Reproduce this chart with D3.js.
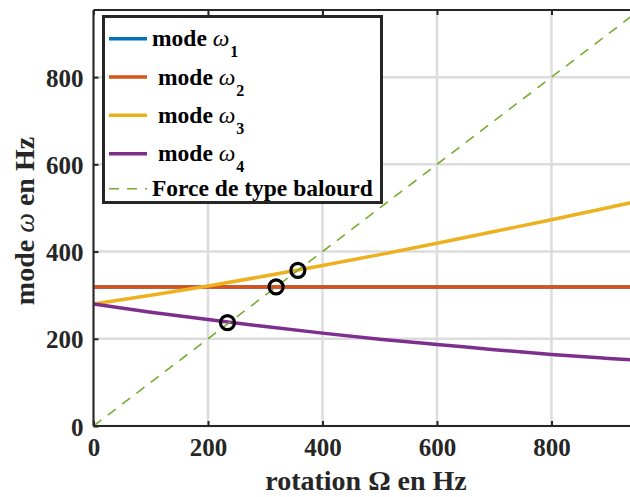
<!DOCTYPE html>
<html><head><meta charset="utf-8">
<script src="https://cdn.jsdelivr.net/npm/d3@7"></script>
<style>
html,body{margin:0;padding:0;background:#fff;overflow:hidden}
svg{display:block;font-family:"Liberation Serif","Times New Roman",serif}
</style></head>
<body>
<svg id="chart" width="630" height="497"></svg>
<script>
// ---- data ----
const rotation = [0, 100, 200, 300, 400, 500, 600, 700, 800, 900, 1000];
const mode1 = [319, 319, 319, 319, 319, 319, 319, 319, 319, 319, 319];
const mode2 = [319, 319, 319, 319, 319, 319, 319, 319, 319, 319, 319];
const mode3 = [280, 300, 321, 344, 368, 393, 419, 446, 473, 501, 530];
const mode4 = [280, 261, 244, 228, 213, 199, 187, 175, 164, 155, 146];
const balourd = [0, 1000];
const crossX = [234, 319, 357];
const crossY = [237, 319, 357];
const xTicks = [0, 200, 400, 600, 800, 1000];
const yTicks = [0, 200, 400, 600, 800];
const seriesNames = ["mode ", "mode ", "mode ", "mode ", "Force de type balourd"];
const seriesSubs = ["1", "2", "3", "4", null];
const colors = ["#0072BD", "#D95319", "#EDB120", "#7E2F8E", "#77AC30"];

const svg = d3.select("#chart");
const L = 93.5, T = 10, B = 426;
const x = d3.scaleLinear().domain([0, 1000]).range([L, L + 572.5]);
const y = d3.scaleLinear().domain([0, 954]).range([B, T]);

const axisColor = "#262626";
// grid
const g = svg.append("g");
g.selectAll(".gx").data(xTicks).enter().append("line")
  .attr("x1", d => x(d)).attr("x2", d => x(d)).attr("y1", T).attr("y2", B)
  .attr("stroke", "#dcdcdc").attr("stroke-width", 2.5);
g.selectAll(".gy").data(yTicks).enter().append("line")
  .attr("x1", L).attr("x2", 700).attr("y1", d => y(d)).attr("y2", d => y(d))
  .attr("stroke", "#dcdcdc").attr("stroke-width", 2.5);

// lines
const line = (ys) => d3.line().x((d, i) => x(rotation[i])).y(d => y(d)).curve(d3.curveNatural)(ys);
svg.append("clipPath").attr("id", "clip").append("rect")
  .attr("x", L).attr("y", T).attr("width", 700).attr("height", B - T);
const plot = svg.append("g").attr("clip-path", "url(#clip)");
[mode1, mode2, mode3, mode4].forEach((s, i) => {
  plot.append("path").attr("d", line(s)).attr("fill", "none")
    .attr("stroke", colors[i]).attr("stroke-width", 3.5);
});
plot.append("line").attr("x1", x(balourd[0])).attr("y1", y(balourd[0]))
  .attr("x2", x(balourd[1])).attr("y2", y(balourd[1]))
  .attr("stroke", colors[4]).attr("stroke-width", 1.6).attr("stroke-dasharray", "10,8");

// circles
plot.selectAll(".c").data(crossX).enter().append("circle")
  .attr("cx", d => x(d)).attr("cy", (d, i) => y(crossY[i])).attr("r", 7)
  .attr("fill", "none").attr("stroke", "#000").attr("stroke-width", 3.2);

// axes
const xAxis = d3.axisBottom(x).tickValues(xTicks.slice(0, 5)).tickSize(-5).tickPadding(10).tickFormat(d3.format("d"));
const gxA = svg.append("g").attr("transform", `translate(0,${B})`).call(xAxis);
const xTop = d3.axisTop(x).tickValues(xTicks.slice(0, 5)).tickSize(-5).tickFormat("");
const gxT = svg.append("g").attr("transform", `translate(0,${T})`).call(xTop);
const yAxis = d3.axisLeft(y).tickValues(yTicks).tickSize(-5).tickPadding(10).tickFormat(d3.format("d"));
const gyA = svg.append("g").attr("transform", `translate(${L},0)`).call(yAxis);
[gxA, gxT, gyA].forEach(a => {
  a.select(".domain").attr("stroke", axisColor).attr("stroke-width", 2);
  a.selectAll(".tick line").attr("stroke", axisColor).attr("stroke-width", 2);
  a.selectAll("text").attr("fill", axisColor).attr("font-size", 25).attr("font-weight", "bold")
    .attr("font-family", "Liberation Serif");
});
gxA.select(".domain").attr("d", `M${L},0H640`);
gxT.select(".domain").attr("d", `M${L},0H640`);
gyA.select(".domain").attr("d", `M0,${B}V${T}`);
gxA.selectAll("text").attr("dy", "0.78em");
gyA.selectAll("text").attr("dy", "0.36em");

// axis labels
svg.append("text").attr("x", 366).attr("y", 490).attr("text-anchor", "middle")
  .attr("font-size", 28).attr("font-weight", "bold").attr("fill", axisColor)
  .text("rotation Ω en Hz");
const yl = svg.append("text").attr("transform", "translate(34,221) rotate(-90)")
  .attr("text-anchor", "middle").attr("font-size", 28).attr("font-weight", "bold").attr("fill", axisColor);
yl.append("tspan").text("mode ");
yl.append("tspan").attr("font-style", "italic").attr("font-weight", "normal").text("ω");
yl.append("tspan").text(" en Hz");

// legend
const lg = svg.append("g");
lg.append("rect").attr("x", 103.5).attr("y", 16.5).attr("width", 278).attr("height", 186)
  .attr("fill", "#fff").attr("stroke", axisColor).attr("stroke-width", 3);
const rowsY = [38.7, 77, 115.3, 153.7, 188.7];
seriesNames.forEach((name, i) => {
  const yy = rowsY[i];
  const ln = lg.append("line").attr("x1", 109).attr("x2", 147).attr("y1", yy).attr("y2", yy)
    .attr("stroke", colors[i]).attr("stroke-width", i === 4 ? 1.6 : 3.5);
  if (i === 4) ln.attr("stroke-dasharray", "10,8");
  const t = lg.append("text").attr("x", (i === 0 || i === 4) ? 152 : 158).attr("y", yy + 7.5)
    .attr("font-size", 23.5).attr("font-weight", "bold").attr("fill", "#000");
  t.append("tspan").text(name);
  if (seriesSubs[i]) {
    t.append("tspan").attr("font-style", "italic").attr("font-weight", "normal").text("ω");
    t.append("tspan").attr("font-size", 16).attr("dy", 11).attr("dx", 1).text(seriesSubs[i]);
  }
});
</script>
</body></html>
